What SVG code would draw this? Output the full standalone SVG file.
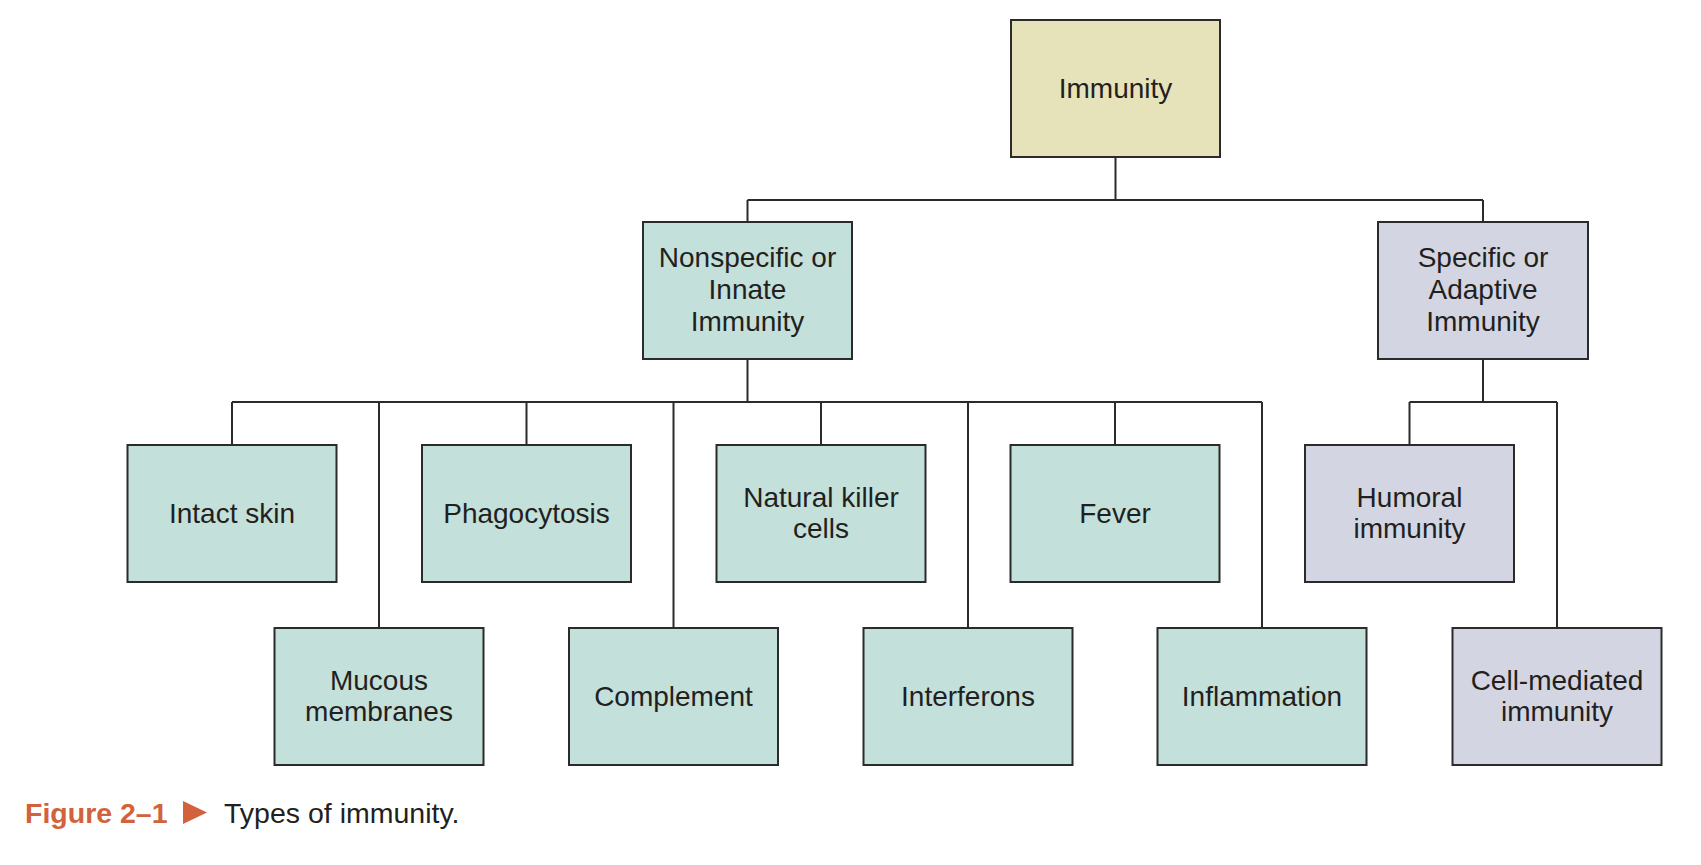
<svg xmlns="http://www.w3.org/2000/svg" width="1701" height="865" viewBox="0 0 1701 865">
<style>
.box{stroke:#2b2b2b;stroke-width:2}
.k{fill:#E6E3BB}
.t{fill:#C4E0DA}
.l{fill:#D3D6E2}
.lbl{font-family:"Liberation Sans",Arial,sans-serif;font-size:28px;fill:#231f20;text-anchor:middle}
.con{stroke:#2b2b2b;stroke-width:2;fill:none}
</style>
<rect width="1701" height="865" fill="#ffffff"/>
<g id="connectors" class="con">
<path d="M1115.5,157V200M747.5,200H1483M747.5,200V222M1483,200V222"/>
<path d="M747.5,359V402M232,402H1262M232,402V445M379,402V628M526.5,402V445M673.5,402V628M821,402V445M968,402V628M1115,402V445M1262,402V628"/>
<path d="M1483,359V402M1409.5,402H1557M1409.5,402V445M1557,402V628"/>
</g>
<g id="immunity"><rect class="box k" x="1011" y="20" width="209" height="137"/><text class="lbl" x="1115.5" y="98">Immunity</text></g>
<g id="innate"><rect class="box t" x="643" y="222" width="209" height="137"/><text class="lbl" x="747.5" y="267">Nonspecific or</text><text class="lbl" x="747.5" y="299">Innate</text><text class="lbl" x="747.5" y="331">Immunity</text></g>
<g id="adaptive"><rect class="box l" x="1378" y="222" width="210" height="137"/><text class="lbl" x="1483" y="267">Specific or</text><text class="lbl" x="1483" y="299">Adaptive</text><text class="lbl" x="1483" y="331">Immunity</text></g>
<g id="skin"><rect class="box t" x="127.5" y="445" width="209" height="137"/><text class="lbl" x="232" y="523">Intact skin</text></g>
<g id="phago"><rect class="box t" x="422" y="445" width="209" height="137"/><text class="lbl" x="526.5" y="523">Phagocytosis</text></g>
<g id="nk"><rect class="box t" x="716.5" y="445" width="209" height="137"/><text class="lbl" x="821" y="507">Natural killer</text><text class="lbl" x="821" y="538">cells</text></g>
<g id="fever"><rect class="box t" x="1010.5" y="445" width="209" height="137"/><text class="lbl" x="1115" y="523">Fever</text></g>
<g id="humoral"><rect class="box l" x="1305" y="445" width="209" height="137"/><text class="lbl" x="1409.5" y="507">Humoral</text><text class="lbl" x="1409.5" y="538">immunity</text></g>
<g id="mucous"><rect class="box t" x="274.5" y="628" width="209" height="137"/><text class="lbl" x="379" y="690">Mucous</text><text class="lbl" x="379" y="721">membranes</text></g>
<g id="complement"><rect class="box t" x="569" y="628" width="209" height="137"/><text class="lbl" x="673.5" y="706">Complement</text></g>
<g id="interferons"><rect class="box t" x="863.5" y="628" width="209" height="137"/><text class="lbl" x="968" y="706">Interferons</text></g>
<g id="inflammation"><rect class="box t" x="1157.5" y="628" width="209" height="137"/><text class="lbl" x="1262" y="706">Inflammation</text></g>
<g id="cell"><rect class="box l" x="1452.5" y="628" width="209" height="137"/><text class="lbl" x="1557" y="690">Cell-mediated</text><text class="lbl" x="1557" y="721">immunity</text></g>
<g id="caption">
<text x="25" y="823" font-family="Liberation Sans,Arial,sans-serif" font-size="28.5" font-weight="bold" fill="#D2623C">Figure 2–1</text>
<polygon points="183,801 183,824 207,812.5" fill="#D2623C"/>
<text x="224" y="823" font-family="Liberation Sans,Arial,sans-serif" font-size="28.5" fill="#231f20">Types of immunity.</text>
</g>
</svg>
